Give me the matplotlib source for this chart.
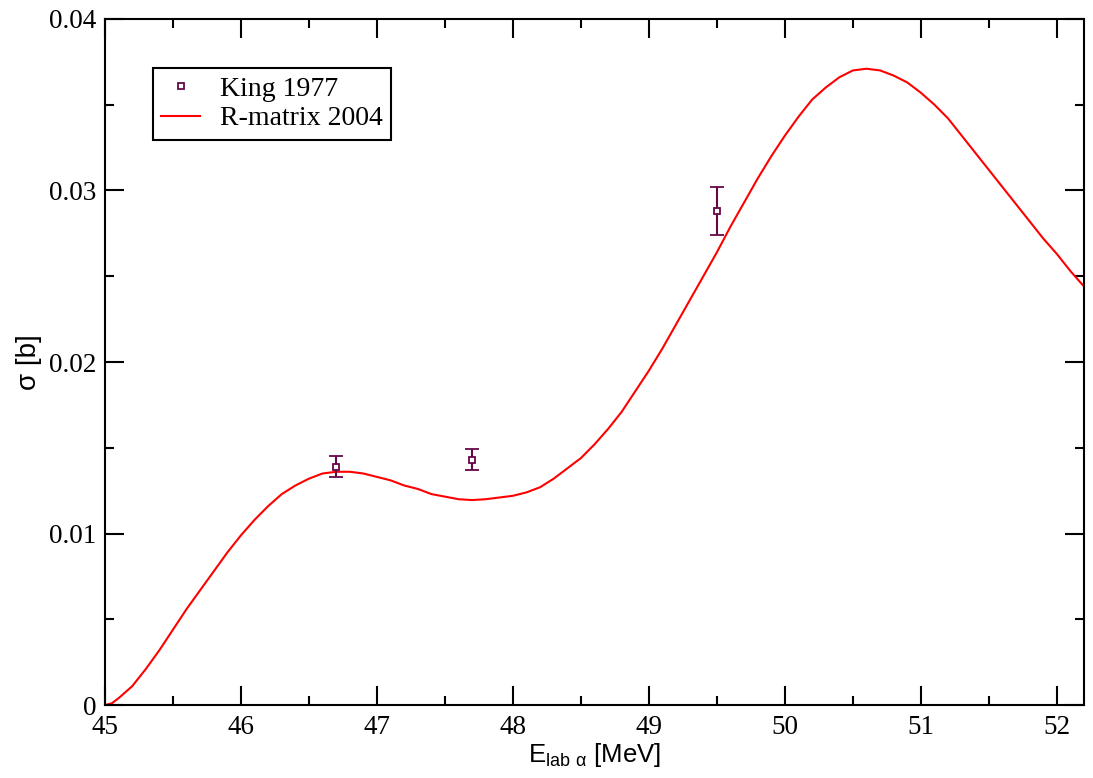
import matplotlib
matplotlib.use("Agg")
import matplotlib.pyplot as plt
from matplotlib.lines import Line2D
from matplotlib.ticker import MultipleLocator

# R-matrix 2004 curve
rm_e = [45.00, 45.05, 45.10, 45.20, 45.30, 45.40, 45.50, 45.60, 45.70, 45.80, 45.90,
        46.00, 46.10, 46.20, 46.30, 46.40, 46.50, 46.60, 46.70, 46.80, 46.90,
        47.00, 47.10, 47.20, 47.30, 47.40, 47.50, 47.60, 47.70, 47.80, 47.90,
        48.00, 48.10, 48.20, 48.30, 48.40, 48.50, 48.60, 48.70, 48.80, 48.90,
        49.00, 49.10, 49.20, 49.30, 49.40, 49.50, 49.60, 49.70, 49.80, 49.90,
        50.00, 50.10, 50.20, 50.30, 50.40, 50.50, 50.60, 50.70, 50.80, 50.90,
        51.00, 51.10, 51.20, 51.30, 51.40, 51.50, 51.60, 51.70, 51.80, 51.90,
        52.00, 52.10, 52.20]
rm_sig = [0.0000, 0.0001, 0.0004, 0.0011, 0.0021, 0.0032, 0.0044, 0.0056, 0.0067, 0.0078, 0.0089,
          0.0099, 0.0108, 0.0116, 0.0123, 0.0128, 0.0132, 0.0135, 0.0136, 0.0136, 0.0135,
          0.0133, 0.0131, 0.0128, 0.0126, 0.0123, 0.01215, 0.0120, 0.01195, 0.0120, 0.0121,
          0.0122, 0.0124, 0.0127, 0.0132, 0.0138, 0.0144, 0.0152, 0.0161, 0.0171, 0.0183,
          0.0195, 0.0208, 0.0222, 0.0236, 0.0250, 0.0264, 0.0279, 0.0293, 0.0307, 0.0320,
          0.0332, 0.0343, 0.0353, 0.0360, 0.0366, 0.0370, 0.0371, 0.0370, 0.0367, 0.0363,
          0.0357, 0.0350, 0.0342, 0.0332, 0.0322, 0.0312, 0.0302, 0.0292, 0.0282, 0.0272,
          0.0263, 0.0253, 0.0244]

# King 1977 data
king_e = [46.7, 47.7, 49.5]
king_sig = [0.0139, 0.0143, 0.0288]
king_err = [0.0006, 0.0006, 0.0014]

serif = "Liberation Serif"
sans = "Liberation Sans"
maroon = "#670748"

fig = plt.figure(figsize=(10.93, 7.78), dpi=100)
ax = fig.add_axes([0.0961, 0.0938, 0.8957, 0.8818])

ax.errorbar(king_e, king_sig, yerr=king_err, fmt="s", ms=4.5, mfc="white",
            mec=maroon, mew=1.3, ecolor=maroon, elinewidth=1.5, capsize=5,
            capthick=1.5, zorder=3)
ax.plot(rm_e, rm_sig, color="red", lw=1.5)

ax.set_xlim(45, 52.2)
ax.set_ylim(0, 0.04)
ax.xaxis.set_major_locator(MultipleLocator(1))
ax.xaxis.set_minor_locator(MultipleLocator(0.5))
ax.yaxis.set_minor_locator(MultipleLocator(0.005))
ax.set_yticks([0, 0.01, 0.02, 0.03, 0.04])
ax.set_yticklabels(["0", "0.01", "0.02", "0.03", "0.04"])

ax.tick_params(which="both", direction="in", top=True, right=True, width=1.5)
ax.tick_params(which="major", length=13.5, labelsize=19.5)
ax.tick_params(which="minor", length=6.7)
ax.tick_params(axis="x", which="major", pad=7.5)
ax.tick_params(axis="y", which="major", pad=6)
for lab in ax.get_xticklabels() + ax.get_yticklabels():
    lab.set_family(serif)
for s in ax.spines.values():
    s.set_linewidth(1.5)

ax.set_xlabel(r"E$_{\mathregular{lab\ α}}$ [MeV]", family=sans, fontsize=18.5, labelpad=0.5)
ax.set_ylabel("σ [b]", family=sans, fontsize=20, labelpad=5)

handles = [Line2D([], [], ls="none", marker="s", ms=4.5, mfc="white", mec=maroon, mew=1.3),
           Line2D([], [], color="red", lw=1.5)]
leg = ax.legend(handles, ["King 1977", "R-matrix 2004"], loc="upper left",
                bbox_to_anchor=(0.049, 0.9286), borderaxespad=0,
                prop={"family": serif, "size": 20}, fancybox=False, framealpha=1,
                edgecolor="black", borderpad=0.3, handlelength=1.4,
                handletextpad=0.7, labelspacing=0.15)
leg.get_frame().set_linewidth(1.5)

fig.savefig("out.png", dpi=100)
